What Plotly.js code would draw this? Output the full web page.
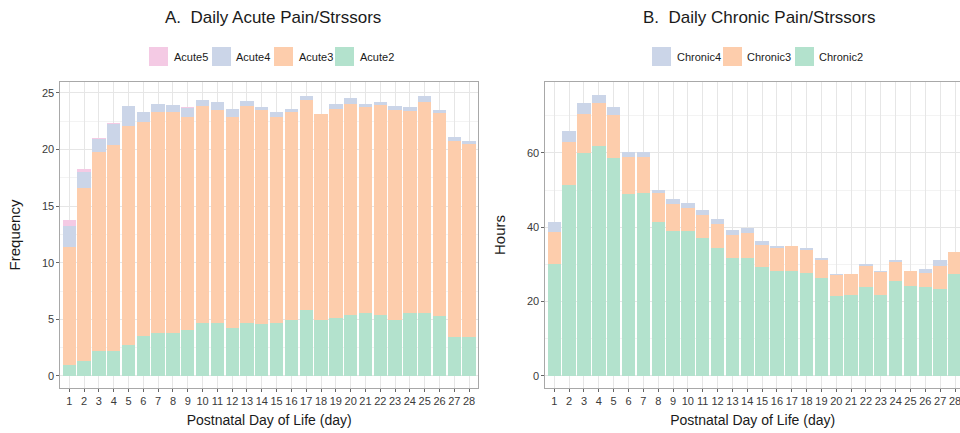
<!DOCTYPE html>
<html>
<head>
<meta charset="utf-8">
<script src="https://cdn.plot.ly/plotly-3.0.1.min.js"></script>
<style>
  html, body { margin: 0; padding: 0; background: #ffffff; }
  #chart { width: 960px; height: 433px; }
</style>
</head>
<body>
<div id="chart"></div>
<script>
// ---- data ----
const days = [1,2,3,4,5,6,7,8,9,10,11,12,13,14,15,16,17,18,19,20,21,22,23,24,25,26,27,28];

// Panel A: daily acute pain/stressors (frequency), stacked
const acute2 = [1.0,1.3,2.2,2.2,2.7,3.5,3.8,3.8,4.1,4.7,4.7,4.2,4.7,4.6,4.7,4.9,5.8,4.9,5.1,5.4,5.6,5.4,4.9,5.6,5.6,5.3,3.4,3.4];
const acute3 = [10.4,15.3,17.6,18.2,19.4,18.9,19.5,19.5,18.75,19.1,18.8,18.65,19.1,18.87,18.2,18.4,18.6,18.25,18.5,18.6,18.16,18.5,18.6,17.8,18.6,17.9,17.3,17.1];
const acute4 = [1.8,1.4,1.1,1.8,1.7,0.9,0.7,0.6,0.8,0.6,0.65,0.7,0.5,0.23,0.36,0.3,0.3,0.0,0.37,0.56,0.24,0.25,0.3,0.3,0.5,0.3,0.4,0.2];
const acute5 = [0.6,0.3,0.1,0.15,0,0,0,0,0.05,0,0,0,0,0,0,0,0,0,0,0,0,0,0,0,0,0,0,0];

// Panel B: daily chronic pain/stressors (hours), stacked
const chronic2 = [30.1,51.4,60.1,62.0,58.6,49.0,49.1,41.3,39.0,38.9,37.0,34.4,31.7,31.7,29.2,28.2,28.2,27.8,26.4,21.6,21.8,23.8,21.8,25.6,24.2,23.9,23.3,27.4];
const chronic3 = [8.5,11.6,10.3,11.4,11.5,10.0,9.9,7.9,7.3,6.3,6.3,6.4,6.2,6.7,6.1,6.1,6.8,6.2,4.8,5.6,5.7,5.9,6.1,5.0,4.0,3.7,6.3,6.0];
const chronic4 = [2.9,3.0,3.1,2.2,2.2,1.3,1.3,0.9,1.3,1.4,1.3,1.4,1.4,1.4,0.9,0.8,0.0,0.4,0.5,0.3,0.0,0.4,0.4,0.5,0.0,1.3,1.5,0.0];

const acuteNames = ["Acute5","Acute4","Acute3","Acute2"];
const chronicNames = ["Chronic4","Chronic3","Chronic2"];

// ---- styles ----
const C = { c2: "#B3E2CD", c3: "#FDCDAC", c4: "#CBD5E8", c5: "#F4CAE4" };
const FONT = "Liberation Sans, Arial, sans-serif";

function bar(name, y, color, xa, ya) {
  return { type: "bar", name: name, x: days, y: y, xaxis: xa, yaxis: ya,
           marker: { color: color, line: { width: 0 } }, showlegend: false,
           hoverinfo: "x+y+name" };
}

const traces = [
  bar("Acute2", acute2, C.c2, "x", "y"),
  bar("Acute3", acute3, C.c3, "x", "y"),
  bar("Acute4", acute4, C.c4, "x", "y"),
  bar("Acute5", acute5, C.c5, "x", "y"),
  bar("Chronic2", chronic2, C.c2, "x2", "y2"),
  bar("Chronic3", chronic3, C.c3, "x2", "y2"),
  bar("Chronic4", chronic4, C.c4, "x2", "y2")
];

const W = 960, H = 433;
const px = v => v / W;
const py = v => 1 - v / H;

const gridCol = "#e6e6e6";
const lineCol = "#a8a8a8";
const tickCol = "#3a3a3a";

function xAxis(domain, range, anchor) {
  return {
    domain: domain, range: range, anchor: anchor,
    tickmode: "array", tickvals: days, ticktext: days.map(String),
    ticks: "outside", ticklen: 3, tickcolor: "#666", tickwidth: 1,
    tickfont: { family: FONT, size: 11, color: tickCol },
    ticklabeloverflow: "allow",
    showgrid: true, gridcolor: gridCol, gridwidth: 1,
    showline: true, linecolor: lineCol, linewidth: 1, mirror: true,
    zeroline: false, fixedrange: true,
    title: { text: "Postnatal Day of Life (day)", font: { family: FONT, size: 14, color: "#1a1a1a" }, standoff: 8 }
  };
}
function yAxis(domain, range, anchor, dtick, minorD, title, mirror) {
  return {
    domain: domain, range: range, anchor: anchor,
    tickmode: "linear", tick0: 0, dtick: dtick,
    ticks: "outside", ticklen: 3, tickcolor: "#666", tickwidth: 1,
    tickfont: { family: FONT, size: 11, color: tickCol },
    showgrid: true, gridcolor: gridCol, gridwidth: 1,
    minor: { tick0: 0, dtick: minorD, showgrid: true, gridcolor: "#f3f3f3", ticks: "" },
    showline: true, linecolor: lineCol, linewidth: 1, mirror: mirror,
    zeroline: false, fixedrange: true,
    title: { text: title, font: { family: FONT, size: 15, color: "#1a1a1a" } }
  };
}

const yDom = [py(388), py(82)];

// legend (drawn as shapes + text)
const legendA = [
  { name: acuteNames[0], color: C.c5, x0: 149, tx: 172 },
  { name: acuteNames[1], color: C.c4, x0: 212, tx: 234 },
  { name: acuteNames[2], color: C.c3, x0: 274, tx: 297 },
  { name: acuteNames[3], color: C.c2, x0: 335, tx: 358 }
];
const legendB = [
  { name: chronicNames[0], color: C.c4, x0: 652, tx: 675 },
  { name: chronicNames[1], color: C.c3, x0: 723, tx: 745 },
  { name: chronicNames[2], color: C.c2, x0: 795, tx: 817 }
];
const shapes = [];
const annotations = [];
legendA.concat(legendB).forEach(it => {
  shapes.push({ type: "rect", xref: "paper", yref: "paper",
    x0: px(it.x0), x1: px(it.x0 + 19), y0: py(66), y1: py(47),
    fillcolor: it.color, line: { width: 0 } });
  annotations.push({ xref: "paper", yref: "paper", x: px(it.tx), y: py(56.5),
    xanchor: "left", yanchor: "middle", showarrow: false, text: it.name,
    font: { family: FONT, size: 11, color: "#1a1a1a" } });
});
annotations.push({ xref: "paper", yref: "paper", x: px(273), y: py(17),
  xanchor: "center", yanchor: "middle", showarrow: false,
  text: "A.  Daily Acute Pain/Strssors", font: { family: FONT, size: 17, color: "#1a1a1a" } });
annotations.push({ xref: "paper", yref: "paper", x: px(759), y: py(17),
  xanchor: "center", yanchor: "middle", showarrow: false,
  text: "B.  Daily Chronic Pain/Strssors", font: { family: FONT, size: 17, color: "#1a1a1a" } });

const layout = {
  width: W, height: H,
  margin: { l: 0, r: 0, t: 0, b: 0 },
  paper_bgcolor: "#ffffff", plot_bgcolor: "#ffffff",
  barmode: "stack", bargap: 0.1,
  font: { family: FONT },
  showlegend: false,
  xaxis: xAxis([px(60.4), px(478)], [0.4, 28.6], "y"),
  yaxis: yAxis(yDom, [-1.06, 25.95], "x", 5, 2.5, "Frequency", true),
  xaxis2: xAxis([px(545.4), 1], [0.4, 28.337], "y2"),
  yaxis2: yAxis(yDom, [-3.25, 79.1], "x2", 20, 10, "Hours", false),
  shapes: shapes,
  annotations: annotations
};

Plotly.newPlot("chart", traces, layout, { displayModeBar: false, staticPlot: true });
</script>
</body>
</html>
